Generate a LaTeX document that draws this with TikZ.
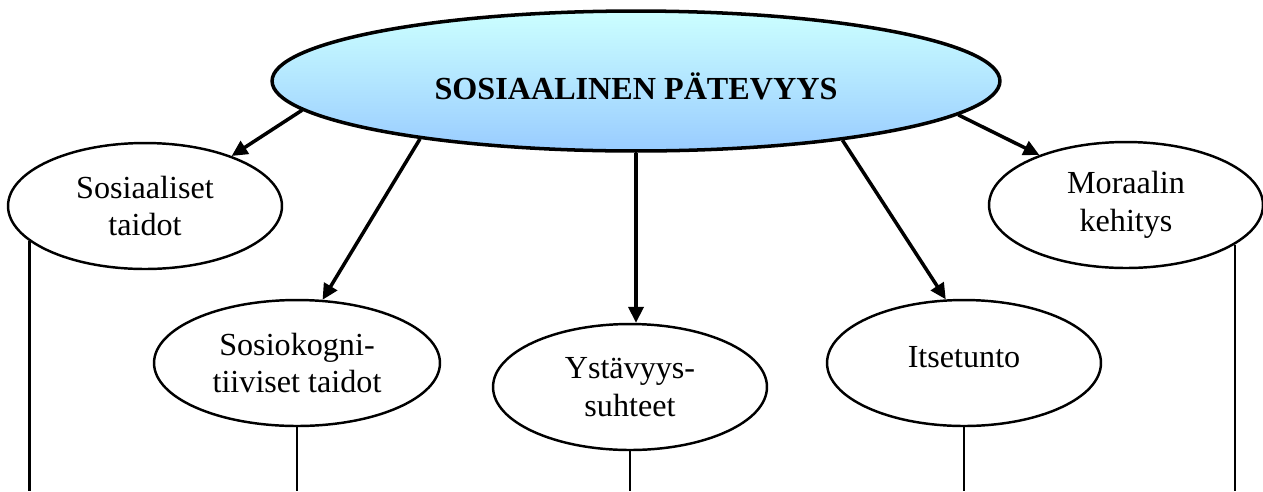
\documentclass[tikz,border=0pt]{standalone}
\usepackage{fontspec}
\setmainfont{Liberation Serif}
\usetikzlibrary{arrows.meta}
\usetikzlibrary{shapes}
\definecolor{topBlue}{HTML}{CCFFFF}
\definecolor{bottomBlue}{HTML}{99CCFF}

\begin{document}
\begin{tikzpicture}[x = 0.02cm, y = -0.02cm, font = \fontsize{18.3}{21.5}\selectfont]
\tikzstyle{mainStyle} = [shape = ellipse, draw, line width = 2pt, minimum width = 14.56cm, minimum height = 2.8cm, inner sep = 0pt, top color = topBlue, bottom color = bottomBlue, font = \fontsize{18.3}{21.5}\selectfont\bfseries]
\tikzstyle{subStyle} = [shape = ellipse, draw, line width = 1.4pt, minimum width = 5.48cm, minimum height = 2.52cm, inner sep = 0pt, align = center]
\tikzstyle{arrowStyle} = [-{Triangle[length = 9pt, width = 8.5pt]}, line width = 2pt]
\tikzstyle{stemStyle} = [line width = 1.3pt]
\useasboundingbox (0, 0) rectangle (1263, 491);
\coordinate (bottom) at (0, 491);
\node[mainStyle, text height = 21pt, text depth = 0pt] (sp) at (636, 81) {SOSIAALINEN PÄTEVYYS};
\node[subStyle] (st) at (145, 206) {Sosiaaliset\\taidot};
\node[subStyle, minimum width = 5.72cm] (sk) at (297, 363) {Sosiokogni-\\tiiviset taidot};
\node[subStyle] (ys) at (630, 387) {Ystävyys-\\suhteet};
\node[subStyle, text depth = 7pt] (it) at (964, 363) {Itsetunto};
\node[subStyle] (mk) at (1126, 205) {Moraalin\\kehitys};
\draw[arrowStyle] (sp.185) -- (st.30);
\draw[arrowStyle] (sp.195) -- (sk.68);
\draw[arrowStyle] (sp.south) -- (sp.south |- ys.north);
\draw[arrowStyle] (sp.344) -- (it.106);
\draw[arrowStyle] (sp.354) -- (mk.150);
\draw[stemStyle] (st.197) -- (st.197 |- bottom);
\draw[stemStyle] (sk.south) -- (sk.south |- bottom);
\draw[stemStyle] (ys.south) -- (ys.south |- bottom);
\draw[stemStyle] (it.south) -- (it.south |- bottom);
\draw[stemStyle] (mk.340) -- (mk.340 |- bottom);
\end{tikzpicture}
\end{document}
